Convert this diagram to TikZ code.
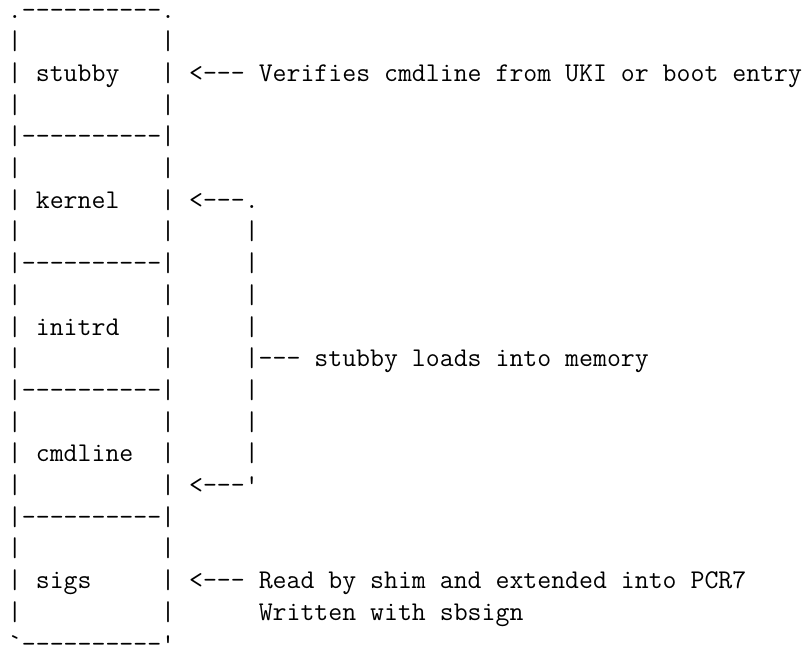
\documentclass[tikz,border=0pt]{standalone}
\usepackage{fontspec}
\setmonofont{Latin Modern Mono}
\tikzset{
  asciirow/.style={inner sep=0pt,outer sep=0pt,anchor=base west,
    font=\fontsize{27.05pt}{31.7pt}\selectfont\ttfamily}
}
\newcommand\asciiline[2]{\node[asciirow] (r#1) at (0,#1-1) {#2};}
\begin{document}
\begin{tikzpicture}[x=14.2pt,y=-31.7pt]
\useasboundingbox (0pt,0pt) rectangle (809pt,-648pt);
\begin{scope}[shift={(8pt,-18pt)}]
\asciiline{1}{.----------.}
\asciiline{2}{|~~~~~~~~~~|}
\asciiline{3}{|~stubby~~~|~<---~Verifies cmdline from UKI or boot entry}
\asciiline{4}{|~~~~~~~~~~|}
\asciiline{5}{|----------|}
\asciiline{6}{|~~~~~~~~~~|}
\asciiline{7}{|~kernel~~~|~<---.}
\asciiline{8}{|~~~~~~~~~~|~~~~~|}
\asciiline{9}{|----------|~~~~~|}
\asciiline{10}{|~~~~~~~~~~|~~~~~|}
\asciiline{11}{|~initrd~~~|~~~~~|}
\asciiline{12}{|~~~~~~~~~~|~~~~~|---~stubby loads into memory}
\asciiline{13}{|----------|~~~~~|}
\asciiline{14}{|~~~~~~~~~~|~~~~~|}
\asciiline{15}{|~cmdline~~|~~~~~|}
\asciiline{16}{|~~~~~~~~~~|~<---'}
\asciiline{17}{|----------|}
\asciiline{18}{|~~~~~~~~~~|}
\asciiline{19}{|~sigs~~~~~|~<---~Read by shim and extended into PCR7}
\asciiline{20}{|~~~~~~~~~~|~~~~~~Written with sbsign}
\asciiline{21}{`----------'}
\end{scope}
\end{tikzpicture}
\end{document}
